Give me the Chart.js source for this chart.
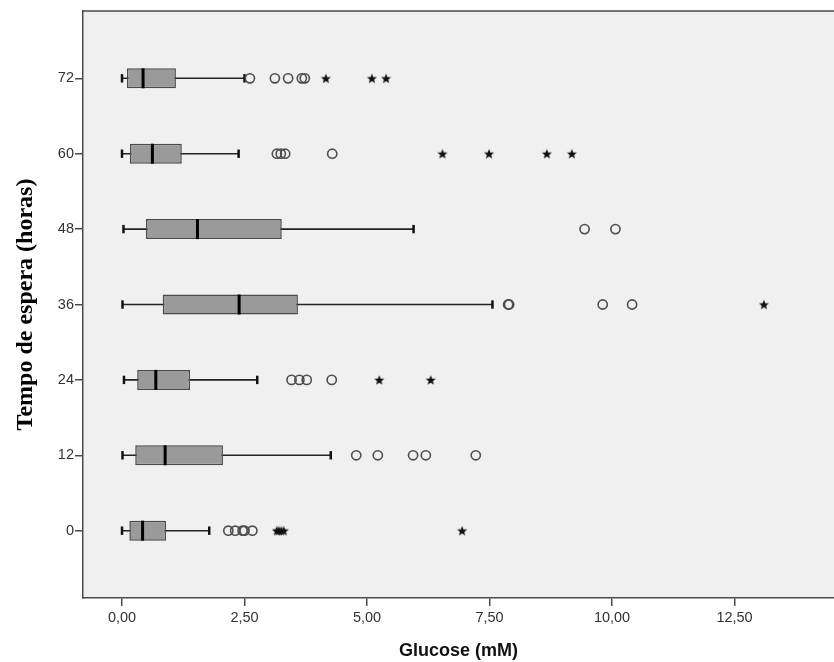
<!DOCTYPE html>
<html>
<head>
<meta charset="utf-8">
<script src="https://cdn.jsdelivr.net/npm/chart.js@4/dist/chart.umd.min.js"></script>
<style>
  html, body { margin: 0; padding: 0; background: #ffffff; }
  canvas { display: block; }
</style>
</head>
<body>
<canvas id="c" width="834" height="662"></canvas>
<script>
// ---- Data (index 0 = bottom row) ----
const categories  = ['0', '12', '24', '36', '48', '60', '72'];
const whiskerLow  = [0.00, 0.01, 0.04, 0.01, 0.03, 0.00, 0.00];
const q1          = [0.15, 0.27, 0.31, 0.83, 0.49, 0.16, 0.10];
const median      = [0.42, 0.88, 0.69, 2.39, 1.54, 0.62, 0.43];
const q3          = [0.90, 2.06, 1.39, 3.59, 3.26, 1.22, 1.10];
const whiskerHigh = [1.78, 4.26, 2.76, 7.56, 5.95, 2.38, 2.50];
const outliers = [
  [2.17, 2.31, 2.46, 2.50, 2.66],
  [4.78, 5.22, 5.94, 6.20, 7.22],
  [3.46, 3.62, 3.77, 4.28],
  [7.88, 7.90, 9.81, 10.41],
  [9.44, 10.07],
  [3.16, 3.24, 3.33, 4.29],
  [2.61, 3.12, 3.39, 3.67, 3.73]
];
const extremes = [
  [3.16, 3.20, 3.25, 3.30, 6.94],
  [],
  [5.25, 6.30],
  [13.10],
  [],
  [6.54, 7.49, 8.67, 9.18],
  [4.16, 5.10, 5.39]
];
const xTicks = [0, 2.5, 5, 7.5, 10, 12.5];
const xTitle = 'Glucose (mM)';
const yTitle = 'Tempo de espera (horas)';

// ---- Derived datasets ----
const boxData     = categories.map((c, i) => ({ x: [q1[i], q3[i]], y: i }));
const whiskerData = categories.map((c, i) => ({ x: [whiskerLow[i], whiskerHigh[i]], y: i }));
const capData = [];
categories.forEach((c, i) => { capData.push({ x: whiskerLow[i], y: i }); capData.push({ x: whiskerHigh[i], y: i }); });
const medianData = categories.map((c, i) => ({ x: median[i], y: i }));
const outlierData = [];
outliers.forEach((arr, i) => arr.forEach(v => outlierData.push({ x: v, y: i })));
const extremeData = [];
extremes.forEach((arr, i) => arr.forEach(v => extremeData.push({ x: v, y: i })));

// star marker
const star = document.createElement('canvas');
star.width = 12; star.height = 12;
(function () {
  const g = star.getContext('2d');
  g.beginPath();
  for (let k = 0; k < 10; k++) {
    const r = k % 2 === 0 ? 5.3 : 2.3;
    const a = -Math.PI / 2 + k * Math.PI / 5;
    const px = 6 + r * Math.cos(a), py = 6.5 + r * Math.sin(a);
    k === 0 ? g.moveTo(px, py) : g.lineTo(px, py);
  }
  g.closePath();
  g.fillStyle = '#111';
  g.fill();
})();

const bgPlugin = {
  id: 'bg',
  beforeDraw(chart) {
    const { ctx, chartArea: a } = chart;
    ctx.save();
    ctx.fillStyle = '#f0f0f0';
    ctx.fillRect(a.left, a.top, a.right - a.left, a.bottom - a.top);
    ctx.strokeStyle = '#4a4a4a';
    ctx.lineWidth = 1.5;
    ctx.beginPath();
    ctx.moveTo(a.left, a.top);
    ctx.lineTo(a.right, a.top);
    ctx.stroke();
    ctx.restore();
  }
};

const tickFont = { family: "'Liberation Sans', Arial, sans-serif", size: 14.5 };

new Chart(document.getElementById('c'), {
  type: 'scatter',
  data: {
    datasets: [
      { type: 'scatter', data: medianData, pointStyle: 'line', pointRotation: 90, pointRadius: 10, pointHoverRadius: 10,
        borderColor: '#000', borderWidth: 3, backgroundColor: '#000', order: 0 },
      { type: 'scatter', data: outlierData, pointStyle: 'circle', pointRadius: 4.6, pointHoverRadius: 4.6,
        borderColor: '#4d4d4d', borderWidth: 1.6, backgroundColor: 'rgba(0,0,0,0)', order: 0 },
      { type: 'scatter', data: extremeData, pointStyle: star, order: 0 },
      { type: 'scatter', data: capData, pointStyle: 'line', pointRotation: 90, pointRadius: 4.2, pointHoverRadius: 4.2,
        borderColor: '#111', borderWidth: 2.5, backgroundColor: '#111', order: 1 },
      { type: 'bar', indexAxis: 'y', data: boxData, grouped: false, maxBarThickness: 20,
        backgroundColor: '#9a9a9a', borderColor: '#4a4a4a', borderWidth: 1.5, borderSkipped: false, order: 2 },
      { type: 'bar', indexAxis: 'y', data: whiskerData, grouped: false, maxBarThickness: 1.6,
        backgroundColor: '#222', borderWidth: 0, order: 3 }
    ]
  },
  options: {
    responsive: false,
    animation: false,
    devicePixelRatio: 1,
    events: [],
    layout: { autoPadding: false, padding: { top: 11, right: 0, bottom: 0, left: 0 } },
    plugins: { legend: { display: false }, tooltip: { enabled: false } },
    scales: {
      x: {
        type: 'linear',
        offset: false,
        min: -0.796,
        max: 14.53,
        afterBuildTicks: s => { s.ticks = xTicks.map(v => ({ value: v })); },
        afterFit: s => { s.height = 64; s.paddingLeft = 0; s.paddingRight = 0; },
        ticks: {
          callback: v => v.toFixed(2).replace('.', ','),
          font: tickFont, color: '#333', padding: 3, maxRotation: 0, autoSkip: false
        },
        grid: { offset: false, drawOnChartArea: false, drawTicks: true, tickLength: 8, color: '#4a4a4a', lineWidth: 1.5 },
        border: { display: true, color: '#4a4a4a', width: 1.5 },
        title: {
          display: true, text: xTitle, color: '#111',
          font: { family: "'Liberation Sans', Arial, sans-serif", size: 18, weight: 'bold' },
          padding: { top: 0, bottom: 0 }
        }
      },
      y: {
        type: 'linear',
        offset: false,
        min: -0.893,
        max: 6.893,
        afterBuildTicks: s => { s.ticks = categories.map((c, i) => ({ value: i })); },
        afterFit: s => { s.width = 83; s.paddingTop = 0; s.paddingBottom = 0; },
        ticks: {
          callback: v => categories[v],
          font: tickFont, color: '#333', padding: 1, autoSkip: false
        },
        grid: { offset: false, drawOnChartArea: false, drawTicks: true, tickLength: 8, color: '#4a4a4a', lineWidth: 1.5 },
        border: { display: true, color: '#4a4a4a', width: 1.5 },
        title: {
          display: true, text: yTitle, color: '#000',
          font: { family: "'Liberation Serif', 'Times New Roman', serif", size: 24, weight: 'bold' },
          padding: { top: 11.5, bottom: 0 }
        }
      }
    }
  },
  plugins: [bgPlugin]
});
</script>
</body>
</html>
